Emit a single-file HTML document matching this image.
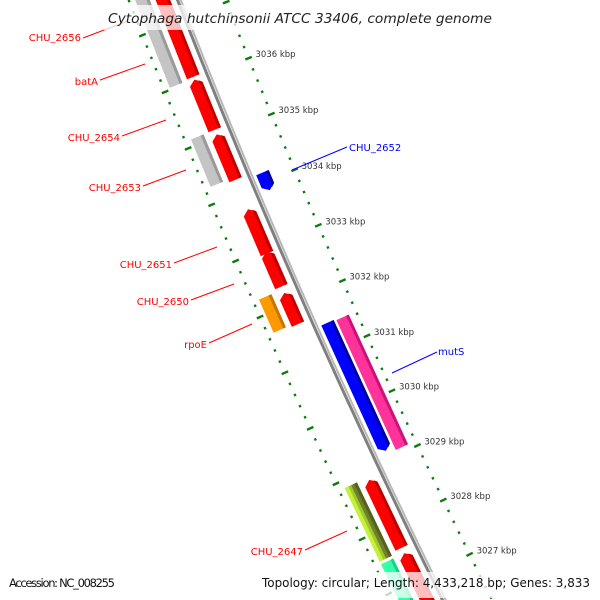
<!DOCTYPE html>
<html><head><meta charset="utf-8"><style>
html,body{margin:0;padding:0;background:#fff;width:600px;height:600px;overflow:hidden;}
svg{display:block;font-family:"DejaVu Sans","Liberation Sans",sans-serif;overflow:hidden;}
</style></head><body>
<svg id="map" width="600" height="600" viewBox="0 0 600 600" xmlns="http://www.w3.org/2000/svg">
<g id="ticks"></g>
<g id="backbone"></g>
<g id="features"></g>
<g id="labels" font-size="10">
  <line x1="83" y1="38" x2="128" y2="21" stroke="#f00" stroke-width="1"/>
  <text x="81" y="41" fill="#f00" text-anchor="end">CHU_2656</text>
  <line x1="100" y1="80" x2="145" y2="64" stroke="#f00"/>
  <text x="98" y="85" fill="#f00" text-anchor="end">batA</text>
  <line x1="122" y1="136" x2="166" y2="120" stroke="#f00"/>
  <text x="120" y="141" fill="#f00" text-anchor="end">CHU_2654</text>
  <line x1="143" y1="186" x2="186" y2="170" stroke="#f00"/>
  <text x="141" y="191" fill="#f00" text-anchor="end">CHU_2653</text>
  <line x1="174" y1="263" x2="217" y2="247" stroke="#f00"/>
  <text x="172" y="268" fill="#f00" text-anchor="end">CHU_2651</text>
  <line x1="191" y1="300" x2="234" y2="284" stroke="#f00"/>
  <text x="189" y="305" fill="#f00" text-anchor="end">CHU_2650</text>
  <line x1="209" y1="343" x2="252" y2="324" stroke="#f00"/>
  <text x="207" y="348" fill="#f00" text-anchor="end">rpoE</text>
  <line x1="305" y1="550" x2="347" y2="531" stroke="#f00"/>
  <text x="303" y="555" fill="#f00" text-anchor="end">CHU_2647</text>
  <line x1="292" y1="170" x2="347" y2="147" stroke="#00f"/>
  <text x="349" y="151" fill="#00f">CHU_2652</text>
  <line x1="392" y1="373" x2="437" y2="352" stroke="#00f"/>
  <text x="438" y="355" fill="#00f">mutS</text>
</g>
<rect x="104" y="5" width="394" height="25" fill="#fff" fill-opacity="0.75"/>
<text x="300" y="23" text-anchor="middle" font-size="13" font-style="italic" fill="#222" textLength="384" lengthAdjust="spacingAndGlyphs">Cytophaga hutchinsonii ATCC 33406, complete genome</text>
<rect x="5" y="572" width="113" height="26" fill="#fff" fill-opacity="0.75"/>
<text x="9" y="587" font-size="11.5" fill="#111" textLength="106" lengthAdjust="spacing">Accession: NC_008255</text>
<rect x="258" y="572" width="338" height="26" fill="#fff" fill-opacity="0.75"/>
<text x="262" y="587" font-size="12" fill="#111" textLength="328" lengthAdjust="spacingAndGlyphs">Topology: circular; Length: 4,433,218 bp; Genes: 3,833</text>
</svg>
<script>
// ---- data ----
const featNames  = ["CHU_2656","CHU_2656b","batA","CHU_2654","CHU_2653","CHU_2652","CHU_2651","CHU_2651b","CHU_2650","rpoE","mutS","mutS_b","CHU_2647","CHU_2647b","CHU_2646","CHU_2646b","CHU_2645"];
const featStart  = [3037800,3037800,3036007,3035035,3035117,3034163,3033700,3032942,3032201,3032267,3031465,3031444,3028874,3028874,3028824,3027489,3027489];
const featEnd    = [3036031,3036056,3035117,3034227,3034277,3033850,3032909,3032316,3031641,3031674,3029142,3029084,3027539,3027539,3027588,3026100,3026100];
const featTrack  = ["L2","L1","L1","L1","L2","R1","L1","L1","L1","L2","R1","R2","L2a","L2b","L1","L1","L2"];
const featColor  = ["#c4c4c4","#ff0000","#ff0000","#ff0000","#c4c4c4","#0000ff","#ff0000","#ff0000","#ff0000","#ff9900","#0000ff","#ff3399","#c4f23a","#6f7f2a","#ff0000","#ff0000","#33ffaa"];
const featShade  = ["#9a9a9a","#c00000","#c00000","#c00000","#9a9a9a","#0000a0","#c00000","#c00000","#c00000","#c87400","#0000a0","#c8147a","#9fc82a","#55621f","#c00000","#c00000","#1fcc88"];
const featArrow  = ["none","up","up","up","none","down","up","up","up","none","down","none","none","none","up","up","none"];
const tickStartBp = 3026000, tickEndBp = 3038000, tickStepBp = 200;
const kbpLabels = [3036,3035,3034,3033,3032,3031,3030,3029,3028,3027];

// ---- geometry (axis functions) ----
const R = 7688, nx = 0.915, ny = -0.404;
const Am = {x:304.1, y:302.8};
const Cx = Am.x + R*nx, Cy = Am.y + R*ny;
const vx0 = -R*nx, vy0 = -R*ny;
function sOf(bp){ return 80.4 + (3036000 - bp)*0.0607 - 328; }
function P(s,u){
  const a = -s/R, c = Math.cos(a), sn = Math.sin(a);
  const k = (R-u)/R;
  return [Cx + (vx0*c - vy0*sn)*k, Cy + (vx0*sn + vy0*c)*k];
}
const trackU = {L1:[-21,-7.5], L2:[-40,-26.5], L2a:[-40,-33], L2b:[-33,-26.5], R1:[6.5,20], R2:[22.5,36]};
const NS = "http://www.w3.org/2000/svg";
function pts(arr){ return arr.map(p=>p[0].toFixed(1)+","+p[1].toFixed(1)).join(" "); }

// backbone
const bb = document.getElementById("backbone");
function bbLine(u, col, w, name){
  const ar=[]; for(let s=-340;s<=340;s+=20) ar.push(P(s,u));
  const pl=document.createElementNS(NS,"polyline");
  pl.setAttribute("points",pts(ar)); pl.setAttribute("fill","none");
  pl.setAttribute("stroke",col); pl.setAttribute("stroke-width",w);
  
  
  bb.appendChild(pl);
}
bbLine(-0.5,"#808080",3,"backbone-dark");
bbLine(2.5,"#b8b8b8",2,"backbone-light");

// ticks
const tg = document.getElementById("ticks");
for(let bp=tickStartBp; bp<=tickEndBp; bp+=tickStepBp){
  const major = bp%1000===0;
  [44,-46].forEach(u=>{
    const s=sOf(bp), h=major?3.5:1.2;
    const a=P(s,u-h), b=P(s,u+h);
    const ln=document.createElementNS(NS,"line");
    ln.setAttribute("x1",a[0]); ln.setAttribute("y1",a[1]);
    ln.setAttribute("x2",b[0]); ln.setAttribute("y2",b[1]);
    ln.setAttribute("stroke","#0b7d0b"); ln.setAttribute("stroke-width",2.4);
    
    
    tg.appendChild(ln);
  });
}
kbpLabels.forEach(k=>{
  const p=P(sOf(k*1000),44);
  const t=document.createElementNS(NS,"text");
  t.setAttribute("x",(p[0]+7).toFixed(1)); t.setAttribute("y",(p[1]-1).toFixed(1));
  t.setAttribute("font-size","8.5"); t.setAttribute("fill","#333");
  t.textContent=k+" kbp";
  
  
  tg.appendChild(t);
});

// features
const fg = document.getElementById("features");
function poly(arr, fill, name){
  const pg=document.createElementNS(NS,"polygon");
  pg.setAttribute("points",pts(arr)); pg.setAttribute("fill",fill);
  
  
  fg.appendChild(pg);
}
for(let i=0;i<featNames.length;i++){
  let s1=sOf(featStart[i]), s2=sOf(featEnd[i]);
  if(s1>s2){const t=s1;s1=s2;s2=t;}
  const [ua,ub]=trackU[featTrack[i]], um=(ua+ub)/2, tip=5;
  let body;
  if(featArrow[i]==="up"){
    body=[P(s1,um),P(s1+tip,ub),P(s2,ub),P(s2,ua),P(s1+tip,ua)];
  } else if(featArrow[i]==="down"){
    body=[P(s1,ua),P(s1,ub),P(s2-tip,ub),P(s2,um),P(s2-tip,ua)];
  } else {
    body=[P(s1,ua),P(s1,ub),P(s2,ub),P(s2,ua)];
  }
  poly(body, featColor[i], 'feature-'+featNames[i].toLowerCase());
  const us=ub-3;
  let shade;
  if(featArrow[i]==="up") shade=[P(s1+tip*(ub-us)/(ub-um),us),P(s1+tip,ub),P(s2,ub),P(s2,us)];
  else if(featArrow[i]==="down") shade=[P(s1,us),P(s1,ub),P(s2-tip,ub),P(s2-tip*(ub-us)/(ub-um),us)];
  else shade=[P(s1,us),P(s1,ub),P(s2,ub),P(s2,us)];
  poly(shade, featShade[i], 'feature-shade');
}
</script>
</body></html>
